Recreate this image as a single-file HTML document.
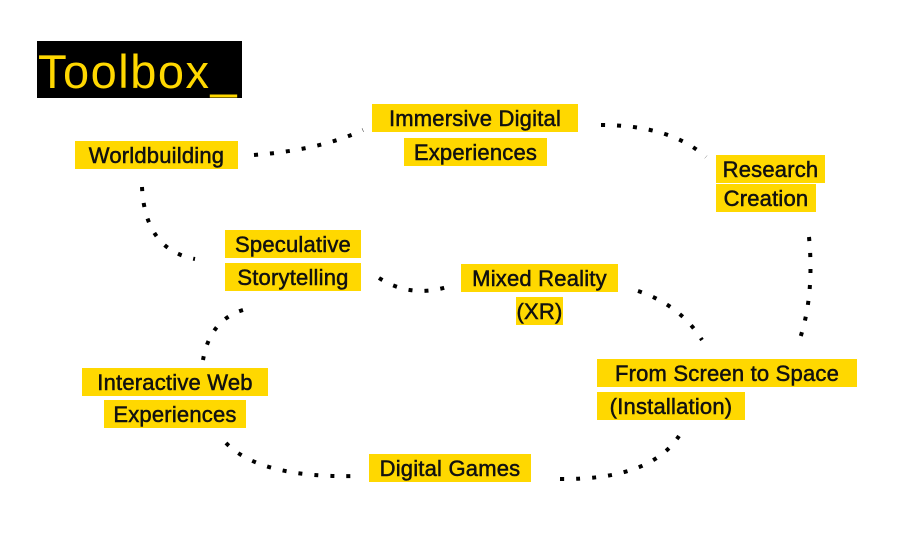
<!DOCTYPE html>
<html><head><style>
body{margin:0;width:903px;height:540px;background:#fff;position:relative;overflow:hidden;font-family:"Liberation Sans",sans-serif;}
.l{position:absolute;background:#ffd800;color:#111;font-size:22px;height:28px;line-height:29px;text-align:center;white-space:nowrap;letter-spacing:0.2px;-webkit-text-stroke:0.5px #111}
#t{position:absolute;left:37px;top:41px;width:205px;height:57px;background:#000;color:#ffd800;font-size:47px;line-height:62px;padding-left:1px;box-sizing:border-box;letter-spacing:1.5px}
svg{position:absolute;left:0;top:0}
</style></head><body>
<div id="t">Toolbox_</div>
<svg width="903" height="540"><g fill="none" stroke="#000" stroke-width="4" stroke-dasharray="4 12">
<path d="M254 155 Q320 150 363 130"/>
<path d="M601 125 Q670 125 706 157"/>
<path d="M142 187 Q145 250 195 259"/>
<path d="M379 278 Q410 298 447 287"/>
<path d="M638 291 Q680 305 702 340"/>
<path d="M809 237 Q815 300 797 347"/>
<path d="M243 310 Q210 320 203 360"/>
<path d="M226 443 Q260 478 355 476"/>
<path d="M560 479 Q650 480 679 436"/>
</g></svg>
<div class="l" style="left:75px;top:141px;width:163px">Worldbuilding</div>
<div class="l" style="left:372px;top:104px;width:206px">Immersive Digital</div>
<div class="l" style="left:404px;top:138px;width:143px">Experiences</div>
<div class="l" style="left:716px;top:155px;width:109px">Research</div>
<div class="l" style="left:716px;top:184px;width:100px">Creation</div>
<div class="l" style="left:225px;top:230px;width:136px">Speculative</div>
<div class="l" style="left:225px;top:263px;width:136px">Storytelling</div>
<div class="l" style="left:461px;top:264px;width:157px">Mixed Reality</div>
<div class="l" style="left:516px;top:297px;width:47px">(XR)</div>
<div class="l" style="left:597px;top:359px;width:260px">From Screen to Space</div>
<div class="l" style="left:597px;top:392px;width:148px">(Installation)</div>
<div class="l" style="left:82px;top:368px;width:186px">Interactive Web</div>
<div class="l" style="left:104px;top:400px;width:142px">Experiences</div>
<div class="l" style="left:369px;top:454px;width:162px">Digital Games</div>
</body></html>
